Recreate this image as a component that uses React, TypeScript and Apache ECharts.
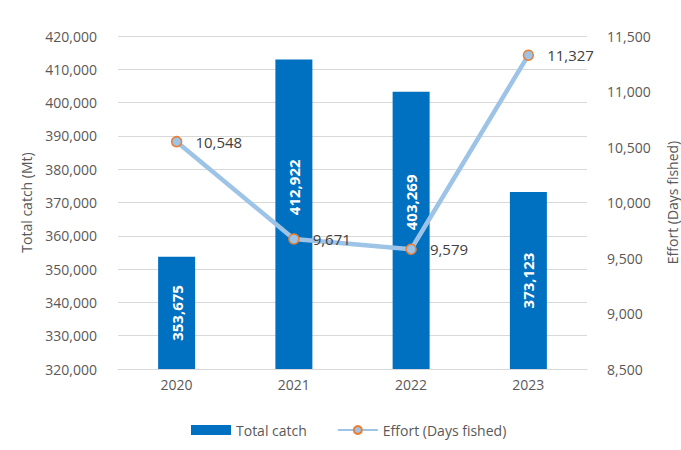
import React, { useEffect, useRef } from "react";
import * as echarts from "echarts";

const years = ["2020", "2021", "2022", "2023"];
const totalCatch = [353675, 412922, 403269, 373123];
const effort = [10548, 9671, 9579, 11327];

const fmt = (v: number) => Number(v).toLocaleString("en-US");
const FONT = "'Open Sans', 'Noto Sans', sans-serif";
// bar labels that were nudged up in the original to clear the line markers (px, along the rotated text)
const barLabelShift = [0, 27, 28, 0];

export default function App() {
  const ref = useRef<HTMLDivElement>(null);
  useEffect(() => {
    const chart = echarts.init(ref.current!, null, { renderer: "svg" });
    chart.setOption({
      animation: false,
      textStyle: { fontFamily: FONT },
      grid: { left: 118, right: 94, top: 36, bottom: 81, outerBoundsMode: "none", containLabel: false },
      legend: {
        bottom: 8,
        left: 186,
        itemWidth: 40,
        itemHeight: 10,
        itemGap: 30,
        textStyle: { color: "#595959", fontSize: 14, fontFamily: FONT },
        data: [
          { name: "Total catch", icon: "rect" },
          { name: "Effort (Days fished)" },
        ],
      },
      xAxis: {
        type: "category",
        data: years,
        axisTick: { show: false },
        axisLine: { lineStyle: { color: "#D9D9D9", width: 1 } },
        axisLabel: { color: "#595959", fontSize: 14, margin: 8, fontFamily: FONT },
      },
      yAxis: [
        {
          type: "value",
          min: 320000,
          max: 420000,
          interval: 10000,
          name: "Total catch (Mt)",
          nameLocation: "middle",
          nameGap: 85,
          nameRotate: 90,
          nameTextStyle: { color: "#595959", fontSize: 14, fontFamily: FONT },
          axisLabel: { color: "#595959", fontSize: 14, margin: 21, formatter: fmt, fontFamily: FONT },
          splitLine: { lineStyle: { color: "#D9D9D9" } },
          axisLine: { show: false },
          axisTick: { show: false },
        },
        {
          type: "value",
          min: 8500,
          max: 11500,
          interval: 500,
          name: "Effort (Days fished)",
          nameLocation: "middle",
          nameGap: 78,
          nameRotate: 90,
          nameTextStyle: { color: "#595959", fontSize: 14, fontFamily: FONT },
          axisLabel: { color: "#595959", fontSize: 14, margin: 20, formatter: fmt, fontFamily: FONT },
          splitLine: { show: false },
          axisLine: { show: false },
          axisTick: { show: false },
        },
      ],
      series: [
        {
          name: "Total catch",
          type: "bar",
          z: 2,
          data: totalCatch.map((v, i) => ({
            value: v,
            label: { offset: [barLabelShift[i], 0] },
          })),
          barWidth: 37,
          itemStyle: { color: "#0070C0" },
          label: {
            show: true,
            position: "inside",
            rotate: 90,
            color: "#FFFFFF",
            fontWeight: "bold",
            fontSize: 15,
            fontFamily: FONT,
            formatter: (p: any) => fmt(p.value),
          },
        },
        {
          name: "Effort (Days fished)",
          type: "line",
          z: 3,
          yAxisIndex: 1,
          data: effort,
          symbol: "circle",
          symbolSize: 10,
          lineStyle: { color: "#9DC3E6", width: 4.5 },
          itemStyle: { color: "#9DC3E6", borderColor: "#ED7D31", borderWidth: 1.5 },
          label: {
            show: true,
            position: "right",
            distance: 13,
            color: "#404040",
            fontSize: 15,
            fontFamily: FONT,
            formatter: (p: any) => fmt(p.value),
          },
        },
      ],
    });
    return () => chart.dispose();
  }, []);
  return (
    <div
      ref={ref}
      style={{ position: "fixed", left: 0, top: 0, width: 681, height: 450, background: "#fff" }}
    />
  );
}
